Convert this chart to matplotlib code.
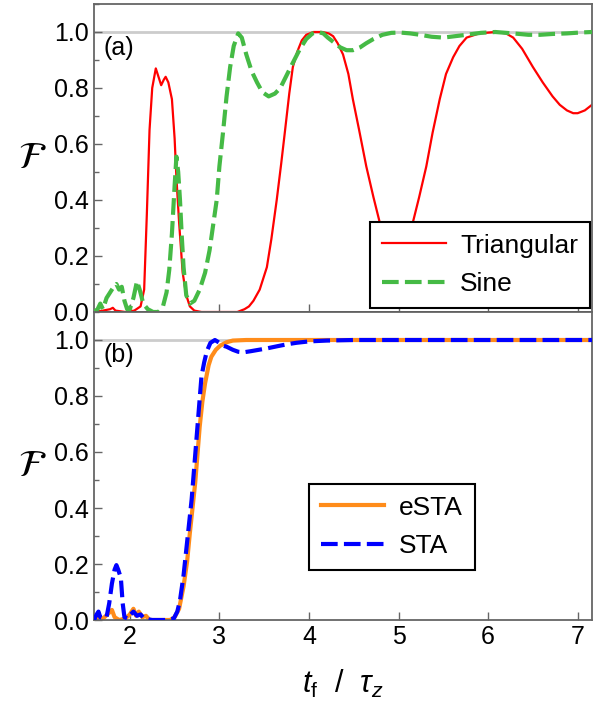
import numpy as np
import matplotlib
matplotlib.use('Agg')
import matplotlib.pyplot as plt
from matplotlib.ticker import MultipleLocator

# panel (a): triangular and sine pulses
tri_x = [1.60, 1.70, 1.78, 1.81, 1.84, 1.95, 2.05, 2.12, 2.16, 2.19, 2.22, 2.25, 2.29, 2.32, 2.35, 2.38,
         2.40, 2.43, 2.47, 2.50, 2.52, 2.55, 2.59, 2.63, 2.67, 2.72, 2.80, 3.00, 3.20, 3.28, 3.33, 3.38,
         3.45, 3.53, 3.58, 3.64, 3.69, 3.73, 3.78, 3.82, 3.87, 3.92, 3.97, 4.05, 4.15, 4.22, 4.27, 4.32,
         4.38, 4.44, 4.49, 4.56, 4.64, 4.72, 4.79, 4.86, 4.92, 4.97, 5.02, 5.09, 5.16, 5.23, 5.31, 5.38,
         5.46, 5.53, 5.61, 5.68, 5.76, 5.90, 6.08, 6.20, 6.28, 6.38, 6.50, 6.61, 6.72, 6.80, 6.88, 6.95,
         7.00, 7.08, 7.16]
tri_y = [0.0, 0.005, 0.01, 0.015, 0.005, 0.0, 0.005, 0.02, 0.08, 0.35, 0.65, 0.80, 0.87, 0.84, 0.81, 0.83,
         0.84, 0.82, 0.76, 0.62, 0.48, 0.32, 0.14, 0.06, 0.02, 0.005, 0.0, 0.0, 0.0, 0.01, 0.02, 0.04,
         0.08, 0.16, 0.26, 0.40, 0.53, 0.64, 0.78, 0.875, 0.93, 0.97, 0.99, 1.0, 1.0, 0.995, 0.985, 0.96,
         0.92, 0.85, 0.76, 0.65, 0.52, 0.41, 0.32, 0.25, 0.21, 0.20, 0.21, 0.25, 0.32, 0.41, 0.52, 0.64,
         0.76, 0.85, 0.91, 0.95, 0.98, 0.995, 1.0, 0.995, 0.98, 0.94, 0.875, 0.82, 0.77, 0.74, 0.72, 0.71,
         0.71, 0.72, 0.74]

sine_x = [1.60, 1.64, 1.67, 1.70, 1.74, 1.78, 1.82, 1.85, 1.88, 1.91, 1.94, 1.97, 2.00, 2.04, 2.08, 2.11,
          2.15, 2.20, 2.26, 2.32, 2.37, 2.41, 2.44, 2.47, 2.50, 2.52, 2.54, 2.56, 2.58, 2.60, 2.63, 2.67,
          2.72, 2.78, 2.84, 2.89, 2.93, 2.97, 3.00, 3.04, 3.08, 3.12, 3.16, 3.21, 3.25, 3.30, 3.36, 3.42,
          3.48, 3.55, 3.62, 3.68, 3.75, 3.82, 3.90, 3.97, 4.04, 4.10, 4.16, 4.21, 4.27, 4.35, 4.42, 4.49,
          4.57, 4.64, 4.72, 4.82, 4.92, 5.02, 5.13, 5.24, 5.37, 5.50, 5.63, 5.76, 5.92, 6.08, 6.28, 6.45,
          6.58, 6.72, 6.88, 7.02, 7.16]
sine_y = [0.0, 0.01, 0.03, 0.01, 0.05, 0.07, 0.09, 0.10, 0.08, 0.09, 0.04, 0.01, 0.01, 0.05, 0.11, 0.08,
          0.03, 0.01, 0.0, 0.0, 0.02, 0.07, 0.15, 0.28, 0.45, 0.555, 0.50, 0.40, 0.27, 0.16, 0.06, 0.03,
          0.04, 0.08, 0.14, 0.22, 0.31, 0.40, 0.52, 0.64, 0.77, 0.875, 0.95, 0.995, 0.98, 0.92, 0.86, 0.82,
          0.785, 0.77, 0.78, 0.80, 0.845, 0.89, 0.94, 0.975, 0.995, 1.0, 0.995, 0.98, 0.965, 0.945, 0.935, 0.935,
          0.945, 0.96, 0.975, 0.99, 0.997, 0.998, 0.995, 0.99, 0.983, 0.98, 0.985, 0.99, 0.997, 1.0, 0.995, 0.99,
          0.99, 0.993, 0.995, 0.998, 1.0]

# panel (b): eSTA and STA
esta_x = [1.60, 1.65, 1.70, 1.75, 1.80, 1.83, 1.88, 1.95, 2.00, 2.04, 2.07, 2.10, 2.14, 2.18, 2.22, 2.35,
          2.45, 2.50, 2.55, 2.60, 2.64, 2.67, 2.70, 2.73, 2.76, 2.78, 2.81, 2.84, 2.88, 2.91, 2.96, 3.01,
          3.08, 3.15, 3.30, 7.16]
esta_y = [0.0, 0.01, 0.005, 0.02, 0.036, 0.01, 0.0, 0.005, 0.02, 0.04, 0.015, 0.03, 0.01, 0.015, 0.0, 0.0,
          0.0, 0.01, 0.04, 0.12, 0.21, 0.31, 0.40, 0.49, 0.61, 0.69, 0.78, 0.845, 0.91, 0.94, 0.965, 0.98,
          0.992, 0.998, 1.0, 1.0]

sta_x = [1.60, 1.63, 1.65, 1.67, 1.71, 1.74, 1.77, 1.80, 1.83, 1.85, 1.87, 1.90, 1.92, 1.94, 1.98, 2.01,
         2.04, 2.08, 2.12, 2.16, 2.25, 2.40, 2.49, 2.53, 2.56, 2.60, 2.63, 2.66, 2.69, 2.72, 2.75, 2.78,
         2.80, 2.83, 2.86, 2.90, 2.95, 3.00, 3.04, 3.08, 3.15, 3.21, 3.27, 3.35, 3.44, 3.53, 3.65, 3.76,
         3.86, 4.00, 4.20, 4.50, 7.16]
sta_y = [0.0, 0.02, 0.03, 0.01, 0.005, 0.01, 0.06, 0.13, 0.18, 0.196, 0.18, 0.15, 0.06, 0.01, 0.005, 0.02,
         0.03, 0.015, 0.02, 0.005, 0.0, 0.0, 0.005, 0.03, 0.07, 0.16, 0.25, 0.34, 0.43, 0.55, 0.67, 0.79,
         0.87, 0.92, 0.96, 0.99, 1.0, 0.99, 0.98, 0.976, 0.965, 0.958, 0.956, 0.96, 0.965, 0.97, 0.978, 0.985,
         0.99, 0.995, 0.998, 1.0, 1.0]

plt.rcParams['font.family'] = ['Liberation Sans', 'DejaVu Sans']
plt.rcParams['mathtext.fontset'] = 'custom'
plt.rcParams['mathtext.rm'] = 'Liberation Sans'
plt.rcParams['mathtext.it'] = 'Liberation Sans:italic'
fs = 18
frame_c = '#666666'

fig = plt.figure(figsize=(6.01, 7.01), dpi=100)
ax1 = fig.add_axes([94 / 601, 389 / 701, 498 / 601, 308 / 701])
ax2 = fig.add_axes([94 / 601, 81 / 701, 498 / 601, 308 / 701])

for ax in (ax1, ax2):
    ax.axhline(1.0, color='#cccccc', lw=2, zorder=1)
    ax.set_xlim(1.6, 7.16)
    ax.set_ylim(0, 1.1)
    ax.xaxis.set_major_locator(MultipleLocator(1))
    ax.yaxis.set_major_locator(MultipleLocator(0.2))
    ax.yaxis.set_minor_locator(MultipleLocator(0.1))
    ax.tick_params(which='both', direction='in', top=False, right=False, colors=frame_c,
                   labelcolor='black', labelsize=fs)
    ax.tick_params(which='major', length=6, width=1)
    ax.tick_params(which='minor', length=3.5, width=1)
    for s in ax.spines.values():
        s.set_color(frame_c)
        s.set_linewidth(1.3)
    ax.yaxis.set_major_formatter(matplotlib.ticker.FormatStrFormatter('%.1f'))
    ax.set_ylabel(r'$\mathcal{F}$', fontsize=27, math_fontfamily='stix', rotation=0, labelpad=16,
                  va='center')

ax1.spines['bottom'].set_color('#222222')
ax1.tick_params(labelbottom=False)

leg_kw = dict(borderaxespad=0, fontsize=fs + 1, fancybox=False, framealpha=1, edgecolor='black',
              handlelength=2.4, handletextpad=0.55, labelspacing=0.55, borderpad=0.45)

ax1.plot(tri_x, tri_y, color='#ff0000', lw=1.6, label='Triangular', zorder=2)
ax1.plot(sine_x, sine_y, color='#45ba45', lw=3, dashes=(4, 1.5), label='Sine', zorder=3)
ax1.text(0.02, 0.857, '(a)', transform=ax1.transAxes, fontsize=fs, va='center')
leg1 = ax1.legend(loc='lower right', bbox_to_anchor=(0.996, 0.013), **leg_kw)
leg1.get_frame().set_linewidth(1.5)

ax2.plot(esta_x, esta_y, color='#ff8c1a', lw=3, label='eSTA', zorder=2)
ax2.plot(sta_x, sta_y, color='#0000ff', lw=3, dashes=(4, 1.5), label='STA', zorder=3)
ax2.text(0.02, 0.86, '(b)', transform=ax2.transAxes, fontsize=fs, va='center')
leg2 = ax2.legend(loc='lower left', bbox_to_anchor=(0.432, 0.162), **leg_kw)
leg2.get_frame().set_linewidth(1.5)
ax2.set_xlabel(r'$t_{\mathrm{f}}\ \ /\ \ \tau_z$', fontsize=22, labelpad=14)

fig.savefig('out.png', dpi=100)
